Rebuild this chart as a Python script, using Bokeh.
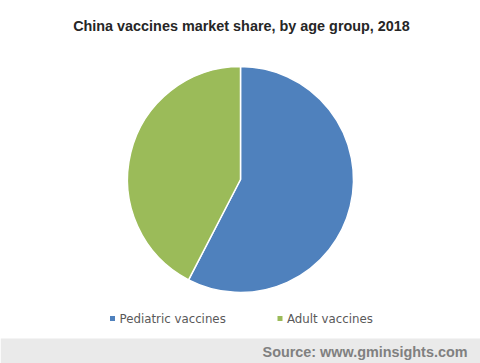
import math
from bokeh.plotting import figure
from bokeh.models import Range1d, ColumnDataSource
from bokeh.core.properties import value
from bokeh.embed import file_html
from bokeh.resources import INLINE

title = "China vaccines market share, by age group, 2018"
categories = ["Pediatric vaccines", "Adult vaccines"]
shares = [57.6, 42.4]
colors = ["#4F81BD", "#9BBB59"]
source_text = "Source: www.gminsights.com"

W, H = 480, 363
p = figure(width=W, height=H, output_backend="svg", toolbar_location=None,
           x_range=Range1d(0, W), y_range=Range1d(0, H), min_border=0)
p.axis.visible = False
p.grid.visible = False
p.outline_line_color = None
p.background_fill_color = "white"
p.border_fill_color = "white"

# pie
cx, cy, r = 240, H - 179, 113
total = sum(shares)
starts, ends = [], []
cum = 0.0
for s in shares:
    starts.append(math.pi / 2 - cum / total * 2 * math.pi)
    cum += s
    ends.append(math.pi / 2 - cum / total * 2 * math.pi)
src = ColumnDataSource(dict(start=starts, end=ends, color=colors, cat=categories))
p.wedge(x=cx, y=cy, radius=r, start_angle="start", end_angle="end", direction="clock",
        fill_color="color", line_color="white", line_width=1.5, source=src)

# title
p.text(x=[241], y=[H - 25], text=[title], text_align="center", text_baseline="middle",
       text_font=value("Liberation Sans"), text_font_style="bold", text_font_size="14.4px",
       text_color="#262626")

# legend
lx = [112, 279.5]
ly = H - 318
p.scatter(x=lx, y=[ly, ly], marker="square", size=5, color=colors, line_color=None)
p.text(x=[v + 7 for v in lx], y=[ly, ly], text=categories, text_align="left",
       text_baseline="middle", text_font=value("DejaVu Sans"), text_font_size="11.8px",
       text_color="#595959")

# footer
p.quad(left=[0], right=[W], bottom=[0], top=[H - 338], fill_color="#EAEAEA", line_color=None)
p.text(x=[467], y=[H - 351], text=[source_text], text_align="right", text_baseline="middle",
       text_font=value("Liberation Sans"), text_font_style="bold", text_font_size="14.4px",
       text_color="#808080")

open("out.html", "w").write(file_html(p, INLINE))
